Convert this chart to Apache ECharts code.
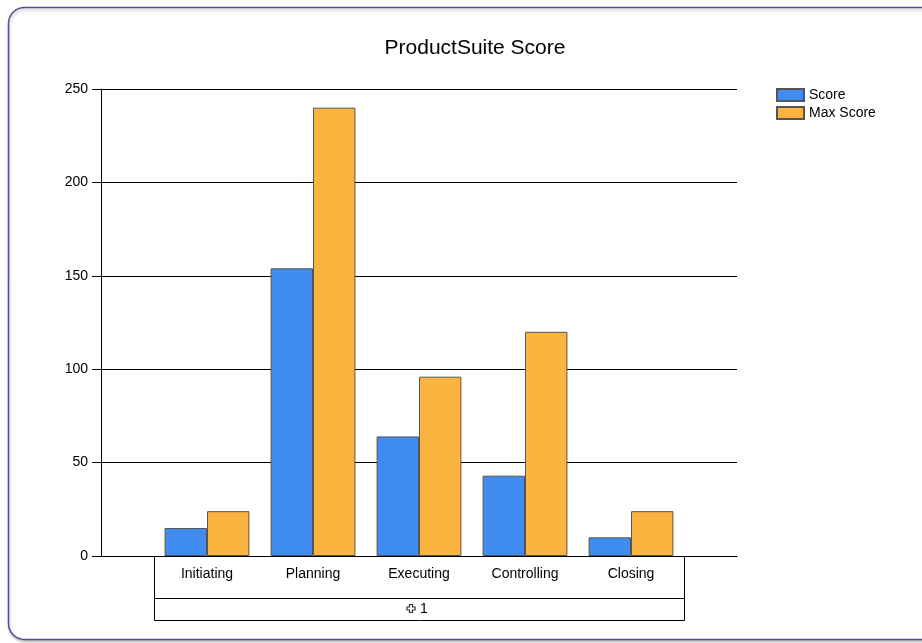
<!DOCTYPE html>
<html>
<head>
<meta charset="utf-8">
<script src="https://cdn.jsdelivr.net/npm/echarts@6/dist/echarts.min.js"></script>
<style>
  html, body { margin: 0; padding: 0; background: #fff; }
  #chart { width: 922px; height: 643px; }
</style>
</head>
<body>
<div id="chart"></div>
<script>
// Phase categories and scores
const categories = ['Initiating', 'Planning', 'Executing', 'Controlling', 'Closing'];
const scoreValues = [15, 154, 64, 43, 10];
const maxScoreValues = [24, 240, 96, 120, 24];
const seriesNames = ['Score', 'Max Score'];
const groupLabel = '1';
const yTicks = { min: 0, max: 250, interval: 50 };

// Layout (pixels)
const W = 922, H = 643;
const plot = { left: 101, right: 737, top: 89, bottom: 556 };
const slot = (plot.right - plot.left) / (categories.length + 1);
const catBox = { left: plot.left + slot / 2, right: plot.right - slot / 2 };
const rowMid = 598, rowBottom = 620;
const FONT = 'Liberation Sans, Arial, sans-serif';

const chart = echarts.init(document.getElementById('chart'), null, { renderer: 'canvas' });

// Small plus-shaped glyph beside the group label
function plusShape(cx, cy, a, b) {
  return [
    [cx - b, cy - a], [cx + b, cy - a], [cx + b, cy - b], [cx + a, cy - b],
    [cx + a, cy + b], [cx + b, cy + b], [cx + b, cy + a], [cx - b, cy + a],
    [cx - b, cy + b], [cx - a, cy + b], [cx - a, cy - b], [cx - b, cy - b]
  ];
}
const groupCenter = (catBox.left + catBox.right) / 2;

const option = {
  backgroundColor: '#ffffff',
  animation: false,
  title: {
    text: 'ProductSuite Score',
    left: 470, top: 33, textAlign: 'center',
    textStyle: { fontFamily: FONT, fontSize: 21, fontWeight: 'normal', color: '#000' }
  },
  legend: {
    data: seriesNames,
    orient: 'vertical',
    left: 771, top: 83,
    icon: 'rect',
    itemWidth: 27, itemHeight: 12, itemGap: 4,
    textStyle: { fontFamily: FONT, fontSize: 14, color: '#000' }
  },
  grid: [
    { left: plot.left, right: W - plot.right, top: plot.top, bottom: H - plot.bottom },
    { left: catBox.left, right: W - catBox.right, top: plot.top, bottom: H - plot.bottom }
  ],
  xAxis: [
    {
      gridIndex: 0, type: 'category', data: [''],
      axisLine: { show: true, lineStyle: { color: '#000', width: 1 } },
      axisTick: { show: false }, axisLabel: { show: false }, splitLine: { show: false }
    },
    {
      gridIndex: 1, type: 'category', data: categories,
      axisLine: { show: false }, axisTick: { show: false },
      axisLabel: { margin: 11, fontFamily: FONT, fontSize: 14, color: '#000' }
    }
  ],
  yAxis: [
    {
      gridIndex: 0, type: 'value', min: yTicks.min, max: yTicks.max, interval: yTicks.interval,
      axisLine: { show: true, lineStyle: { color: '#000', width: 1 } },
      axisTick: { show: true, length: 9, lineStyle: { color: '#000' } },
      axisLabel: { margin: 13, fontFamily: FONT, fontSize: 14, color: '#000' },
      splitLine: { show: true, lineStyle: { color: '#000', width: 1 } }
    },
    {
      gridIndex: 1, type: 'value', min: yTicks.min, max: yTicks.max, interval: yTicks.interval,
      show: false, splitLine: { show: false }
    }
  ],
  series: [
    {
      name: seriesNames[0], type: 'bar', xAxisIndex: 1, yAxisIndex: 1,
      data: scoreValues, barGap: '0%', barCategoryGap: '20%',
      itemStyle: { color: '#418CF0', borderColor: '#555', borderWidth: 1 }
    },
    {
      name: seriesNames[1], type: 'bar', xAxisIndex: 1, yAxisIndex: 1,
      data: maxScoreValues, barGap: '0%', barCategoryGap: '20%',
      itemStyle: { color: '#FCB441', borderColor: '#555', borderWidth: 1 }
    }
  ],
  graphic: [
    {
      // outer frame
      type: 'rect', silent: true, z: -1,
      shape: { x: 8.5, y: 7.5, width: 940, height: 632, r: 16 },
      style: {
        fill: '#fff', stroke: '#4f4f95', lineWidth: 1.5,
        shadowColor: 'rgba(0,0,0,0.25)', shadowBlur: 3, shadowOffsetX: 1, shadowOffsetY: 2
      }
    },
    {
      // category label box
      type: 'rect', silent: true,
      shape: { x: Math.round(catBox.left) + 0.5, y: plot.bottom + 0.5,
               width: Math.round(catBox.right - catBox.left), height: rowBottom - plot.bottom },
      style: { fill: 'none', stroke: '#000', lineWidth: 1 }
    },
    {
      type: 'line', silent: true,
      shape: { x1: Math.round(catBox.left), y1: rowMid + 0.5, x2: Math.round(catBox.right), y2: rowMid + 0.5 },
      style: { stroke: '#000', lineWidth: 1 }
    },
    {
      type: 'polygon', silent: true,
      shape: { points: plusShape(groupCenter - 8, 608.5, 4, 1.5) },
      style: { fill: '#fff', stroke: '#333', lineWidth: 1.2 }
    },
    {
      type: 'text', silent: true,
      x: groupCenter + 1, y: 609,
      style: { text: groupLabel, fontFamily: FONT, fontSize: 14, fill: '#000',
               textAlign: 'left', textVerticalAlign: 'middle' }
    }
  ]
};

chart.setOption(option);
</script>
</body>
</html>
